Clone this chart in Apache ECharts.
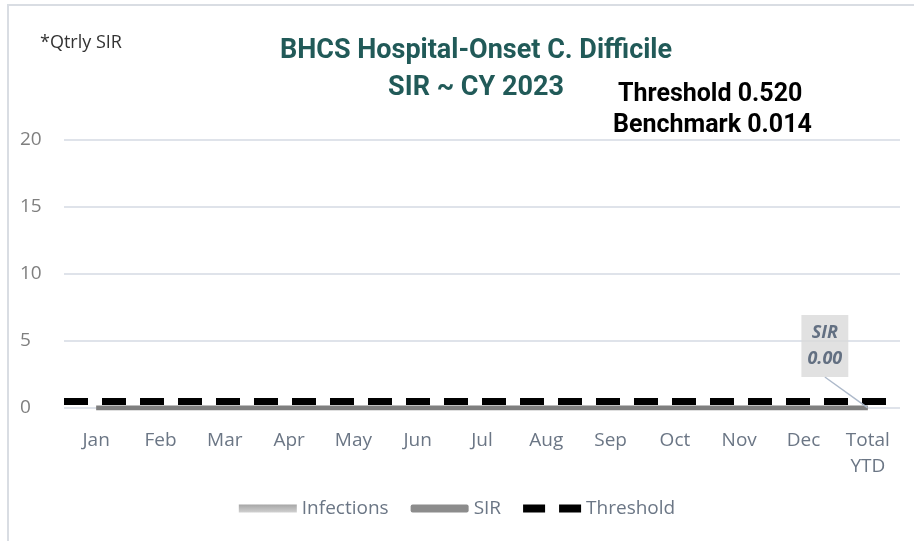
<!DOCTYPE html>
<html>
<head>
<meta charset="utf-8">
<script src="https://cdn.jsdelivr.net/npm/echarts@6/dist/echarts.min.js"></script>
<style>
  html, body { margin: 0; padding: 0; background: #fff; }
  #chart { width: 914px; height: 541px; }
</style>
</head>
<body>
<div id="chart"></div>
<script>
var months = ['Jan', 'Feb', 'Mar', 'Apr', 'May', 'Jun', 'Jul', 'Aug', 'Sep', 'Oct', 'Nov', 'Dec', 'Total\nYTD'];
var infections = [0, 0, 0, 0, 0, 0, 0, 0, 0, 0, 0, 0, 0];
var sir = [0, 0, 0, 0, 0, 0, 0, 0, 0, 0, 0, 0, 0];
var sirYtd = 0.00;
var threshold = 0.52;
var yTicks = [0, 5, 10, 15, 20];

var font = "'Open Sans', 'DejaVu Sans', sans-serif";
var titleFont = "'Roboto', sans-serif";

var chart = echarts.init(document.getElementById('chart'));
chart.setOption({
  animation: false,
  graphic: [
    { type: 'rect', shape: { x: 8, y: 5, width: 920, height: 560 },
      style: { fill: 'none', stroke: '#d9dde3', lineWidth: 2 } },
    { type: 'text', left: 40, top: 34,
      style: { text: '*Qtrly SIR', font: '18px ' + font, fill: '#333' } },
    { type: 'text', left: 618, top: 82,
      style: { text: 'Threshold 0.520', font: 'bold 25px ' + titleFont, fill: '#000' } },
    { type: 'text', left: 613, top: 113,
      style: { text: 'Benchmark 0.014', font: 'bold 25px ' + titleFont, fill: '#000' } }
  ],
  title: {
    text: 'BHCS Hospital-Onset C. Difficile\nSIR ~ CY 2023',
    left: 471,
    textAlign: 'center',
    top: 28,
    textStyle: { fontFamily: titleFont, fontSize: 27, fontWeight: 'bold', color: '#215a58', lineHeight: 37 }
  },
  legend: {
    bottom: 18,
    left: 'center',
    itemGap: 22,
    itemWidth: 58,
    itemHeight: 8,
    textStyle: { fontFamily: font, fontSize: 19, color: '#6b7685' },
    data: [
      { name: 'Infections', icon: 'rect' },
      { name: 'SIR', icon: 'roundRect' },
      { name: 'Threshold', icon: 'path://M0,0 H22 V8 H0 Z M36,0 H58 V8 H36 Z' }
    ]
  },
  grid: { left: 64, right: 14, top: 140, bottom: 133 },
  xAxis: {
    type: 'category',
    data: months,
    axisLine: { show: false },
    axisTick: { show: false },
    axisLabel: { fontFamily: font, fontSize: 19, color: '#6b7685', margin: 20, lineHeight: 26 }
  },
  yAxis: {
    type: 'value',
    min: yTicks[0],
    max: yTicks[yTicks.length - 1],
    interval: 5,
    axisLabel: { fontFamily: font, fontSize: 19, color: '#7f7f7f', margin: 44, align: 'left' },
    splitLine: { lineStyle: { color: '#dfe3ea', width: 2 } }
  },
  series: [
    {
      name: 'Infections',
      type: 'bar',
      data: infections,
      barWidth: '60%',
      itemStyle: { color: new echarts.graphic.LinearGradient(0, 0, 0, 1, [
        { offset: 0, color: '#a6a6a6' }, { offset: 1, color: '#d0d0d0' }]) }
    },
    {
      name: 'SIR',
      type: 'line',
      data: sir,
      symbol: 'none',
      z: 3,
      lineStyle: { color: '#7f7f7f', width: 5 },
      itemStyle: { color: '#8c8c8c' }
    },
    {
      name: 'SIR YTD',
      type: 'scatter',
      data: [[months.length - 1, sirYtd]],
      symbolSize: 1,
      itemStyle: { color: 'rgba(0,0,0,0)' },
      z: 5,
      label: {
        show: true,
        position: 'inside',
        formatter: function (p) { return 'SIR\n' + p.value[1].toFixed(2); },
        fontFamily: font,
        fontSize: 18,
        fontWeight: 'bold',
        fontStyle: 'italic',
        color: '#44546a',
        backgroundColor: '#d9d9d9',
        padding: [5, 6],
        lineHeight: 26,
        align: 'center'
      },
      labelLayout: { dx: -43, dy: -62 },
      labelLine: { show: true, lineStyle: { color: '#adb9ca', width: 1.5 } }
    },
    {
      name: 'Threshold',
      type: 'line',
      data: [],
      symbol: 'none',
      itemStyle: { color: '#000' },
      lineStyle: { color: '#000', width: 7, type: [24, 14] },
      markLine: {
        silent: true,
        symbol: 'none',
        label: { show: false },
        lineStyle: { color: '#000', width: 7, type: [24, 14] },
        data: [{ yAxis: threshold }]
      }
    }
  ]
});
</script>
</body>
</html>
